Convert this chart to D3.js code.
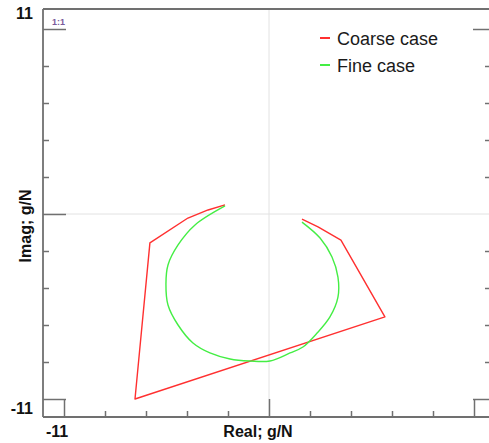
<!DOCTYPE html>
<html><head><meta charset="utf-8">
<script src="https://cdn.jsdelivr.net/npm/d3@7/dist/d3.min.js"></script>
<style>html,body{margin:0;padding:0;background:#fff;}svg{display:block;font-family:"Liberation Sans",Arial,sans-serif;}</style>
</head><body>
<script>
// ---- data ----
const seriesNames = ["Coarse case", "Fine case"];
const seriesColors = ["#ff3030", "#44ee44"];
const coarseRe = [-2.36, -3.27, -4.35, -6.39, -7.19, 6.22, 3.86, 2.63, 1.77];
const coarseIm = [0.54, 0.24, -0.24, -1.72, -11.0, -6.12, -1.55, -0.77, -0.30];
const fineRe = [-2.36, -3.97, -4.88, -5.42, -5.53, -5.42, -4.88, -4.08, -3.17, -2.09, -1.02, 0.05, 1.13, 1.82, 2.58, 3.27, 3.70, 3.70, 3.38, 2.74, 1.77];
const fineIm = [0.48, -0.65, -1.84, -3.03, -4.16, -5.41, -6.60, -7.67, -8.26, -8.62, -8.74, -8.74, -8.26, -7.91, -7.08, -6.12, -4.94, -3.75, -2.56, -1.43, -0.48];
const tickValues = [-11, -8.8, -6.6, -4.4, -2.2, 0, 2.2, 4.4, 6.6, 8.8, 11];
const longTicks = [-11, 0, 11];
const axisMin = -11, axisMax = 11;
const xTitle = "Real; g/N", yTitle = "Imag; g/N";
const ratioLabel = "1:1";

// ---- layout ----
const W = 489, H = 443;
const frame = {left: 43, top: 9, right: 490, bottom: 417};
const x = d3.scaleLinear().domain([axisMin, axisMax]).range([64, 474]);
const y = d3.scaleLinear().domain([axisMin, axisMax]).range([399, 29]);
const axisColor = "#707070";

const svg = d3.select("body").append("svg").attr("width", W).attr("height", H);

// grid lines at 0
svg.append("line").attr("x1", x(0)).attr("x2", x(0)).attr("y1", frame.top).attr("y2", frame.bottom)
  .attr("stroke", "#e2e2e2").attr("stroke-width", 1);
svg.append("line").attr("x1", frame.left).attr("x2", frame.right).attr("y1", y(0)).attr("y2", y(0))
  .attr("stroke", "#e2e2e2").attr("stroke-width", 1);

const isLong = v => longTicks.some(t => Math.abs(t - v) < 1e-9);

// bottom axis
const gb = svg.append("g").attr("transform", `translate(0,${frame.bottom})`)
  .call(d3.axisBottom(x).tickValues(tickValues).tickSize(-6).tickFormat(""));
gb.select(".domain").remove();
gb.selectAll(".tick line").attr("y2", d => isLong(d) ? -18 : -6);

// left axis
const gl = svg.append("g").attr("transform", `translate(${frame.left},0)`)
  .call(d3.axisLeft(y).tickValues(tickValues).tickSize(-6).tickFormat(""));
gl.select(".domain").remove();
gl.selectAll(".tick line").attr("x2", d => isLong(d) ? 23 : 6);

// right axis
const gr = svg.append("g").attr("transform", `translate(${frame.right},0)`)
  .call(d3.axisRight(y).tickValues(tickValues.filter(v => v !== 0)).tickSize(-5).tickFormat(""));
gr.select(".domain").remove();
gr.selectAll(".tick line").attr("x2", d => isLong(d) ? -17 : -5);

svg.selectAll(".tick line").attr("stroke", axisColor).attr("stroke-width", 1.5);
svg.selectAll(".tick text").remove();

// frame lines
const frameG = svg.append("g").attr("stroke", axisColor).attr("stroke-width", 1.8).attr("fill", "none");
frameG.append("line").attr("x1", frame.left).attr("x2", frame.left).attr("y1", frame.top).attr("y2", frame.bottom);
frameG.append("line").attr("x1", frame.left).attr("x2", frame.right).attr("y1", frame.bottom).attr("y2", frame.bottom);
frameG.append("line").attr("x1", frame.left).attr("x2", frame.right).attr("y1", frame.top).attr("y2", frame.top);

// tick labels
const lab = svg.append("g").attr("font-weight", "bold").attr("font-size", 16).attr("fill", "#111");
lab.append("text").attr("x", 33).attr("y", y(axisMax) - 10.5).attr("text-anchor", "end").text(String(axisMax));
lab.append("text").attr("x", 33).attr("y", y(axisMin) + 15).attr("text-anchor", "end").text(String(axisMin));
lab.append("text").attr("x", x(axisMin) - 7).attr("y", 437).attr("text-anchor", "middle").text(String(axisMin));
lab.append("text").attr("x", x(0) - 11).attr("y", 437).attr("text-anchor", "middle").text(xTitle);
lab.append("text").attr("transform", `translate(31,${y(0) + 12}) rotate(-90)`).attr("text-anchor", "middle").text(yTitle);

// 1:1 label
svg.append("text").attr("x", 52).attr("y", 25).attr("font-size", 9).attr("font-weight", "bold").attr("fill", "#7a5a9a").text(ratioLabel);

// series
const curves = [d3.curveLinear, d3.curveCatmullRom];
const series = [d3.zip(coarseRe, coarseIm), d3.zip(fineRe, fineIm)];
series.forEach((pts, i) => {
  const line = d3.line().x(d => x(d[0])).y(d => y(d[1])).curve(curves[i]);
  svg.append("path").datum(pts).attr("d", line).attr("fill", "none")
    .attr("stroke", seriesColors[i]).attr("stroke-width", 1.4).attr("stroke-linejoin", "round");
});

// legend
const lg = svg.append("g");
seriesNames.forEach((n, i) => {
  const yy = 38 + i * 27;
  lg.append("line").attr("x1", 320).attr("x2", 330).attr("y1", yy).attr("y2", yy)
    .attr("stroke", seriesColors[i]).attr("stroke-width", 2);
  lg.append("text").attr("x", 337).attr("y", yy + 7).attr("font-size", 18).attr("fill", "#1a1a1a").text(n);
});
</script>
</body></html>
